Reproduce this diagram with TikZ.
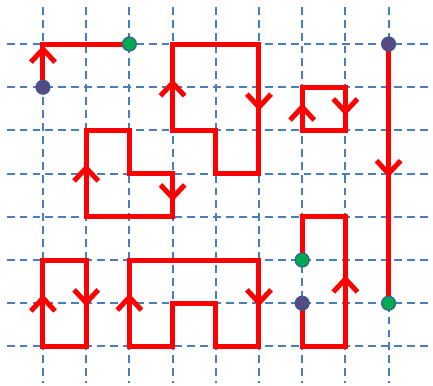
\documentclass[tikz,border=0pt]{standalone}
\definecolor{gridblue}{RGB}{74,126,187}
\definecolor{dotpurple}{RGB}{85,75,130}
\definecolor{dotgreen}{RGB}{0,170,80}
\definecolor{dotedge}{RGB}{60,90,150}
\tikzset{
  gridline/.style={gridblue, line width=1.3pt, dash pattern=on 5.2pt off 3.3pt},
  route/.style={red, line width=3.3pt, line join=miter},
  chev/.style={red, line width=3.3pt, line join=miter},
  chevup/.pic={\draw[chev] (-0.28,0.30) -- (0,0) -- (0.28,0.30);},
  chevdown/.pic={\draw[chev] (-0.28,-0.30) -- (0,0) -- (0.28,-0.30);},
  startdot/.style={circle, fill=dotpurple, draw=dotedge, line width=0.8pt, minimum size=9.2pt, inner sep=0pt},
  enddot/.style={circle, fill=dotgreen, draw=dotedge, line width=0.8pt, minimum size=9.2pt, inner sep=0pt}
}
\begin{document}
\begin{tikzpicture}[x=1cm, y=-1cm]
\useasboundingbox (-0.995,-1.019) rectangle (9.028,7.894);
% grid
\foreach \i in {0,...,8} \draw[gridline] (\i,-0.86) -- (\i,7.85);
\foreach \j in {0,...,7} \draw[gridline] (-0.84,\j) -- (9.03,\j);
% named end points
\coordinate (s1) at (0,1);
\coordinate (c1) at (0,0);
\coordinate (e1) at (2,0);
\coordinate (s2) at (8,0);
\coordinate (e2) at (8,6);
\coordinate (s3) at (6,6);
\coordinate (e3) at (6,5);
% routes
\draw[route] (s1) -- (c1) -- (e1);
\draw[route] (3,0) -- (5,0) -- (5,3) -- (4,3) -- (4,2) -- (3,2) -- cycle;
\draw[route] (6,1) -- (7,1) -- (7,2) -- (6,2) -- cycle;
\draw[route] (s2) -- (e2);
\draw[route] (1,2) -- (2,2) -- (2,3) -- (3,3) -- (3,4) -- (1,4) -- cycle;
\draw[route] (0,5) -- (1,5) -- (1,7) -- (0,7) -- cycle;
\draw[route] (2,5) -- (5,5) -- (5,7) -- (4,7) -- (4,6) -- (3,6) -- (3,7) -- (2,7) -- cycle;
\draw[route] (s3) -- (6,7) -- (7,7) -- (7,4) -- (6,4) -- (e3);
% arrow chevrons
\pic at (0,0.12) {chevup};
\pic at (3,0.90) {chevup};
\pic at (5,1.46) {chevdown};
\pic at (6,1.46) {chevup};
\pic at (7,1.57) {chevdown};
\pic at (8,3.00) {chevdown};
\pic at (1,2.87) {chevup};
\pic at (3,3.56) {chevdown};
\pic at (0,5.88) {chevup};
\pic at (1,5.99) {chevdown};
\pic at (2,5.86) {chevup};
\pic at (5,5.99) {chevdown};
\pic at (7,5.44) {chevup};
% dots
\node[startdot] (d1) at (s1) {};
\node[enddot] (d2) at (e1) {};
\node[startdot] (d3) at (s2) {};
\node[enddot] (d4) at (e2) {};
\node[startdot] (d5) at (s3) {};
\node[enddot] (d6) at (e3) {};
\end{tikzpicture}
\end{document}
